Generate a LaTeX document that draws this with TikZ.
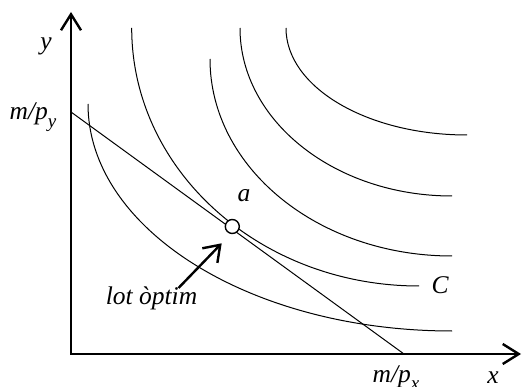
\documentclass[tikz,border=0pt]{standalone}
\usepackage{fontspec}
\setmainfont{Liberation Serif}
\usetikzlibrary{arrows.meta}
\begin{document}
\begin{tikzpicture}[x=1pt,y=-1pt,
  curve/.style={line width=1pt},
  axis/.style={line width=2.4pt, line join=miter,
    {Straight Barb[length=16pt,width=20pt]}-{Straight Barb[length=16pt,width=20pt]}},
  pointer/.style={line width=2.4pt, -{Straight Barb[length=15pt,width=21pt]}},
  lbl/.style={font=\fontsize{25.5}{30}\selectfont\itshape, inner sep=0pt, anchor=base},
  dot/.style={circle, draw, fill=white, line width=1.4pt, minimum size=14pt, inner sep=0pt},
  ]
\useasboundingbox (0,0) rectangle (522,387);
% axes
\coordinate (O) at (71,354);
\coordinate (ytip) at (71,12);
\coordinate (xtip) at (521,354);
\draw[axis] (ytip) -- (O) -- (xtip);
% budget line
\coordinate (my) at (71,112);
\coordinate (mx) at (404,354);
\draw[curve] (my) -- (mx);
% indifference curves (quarter ellipses)
\draw[curve] (88,104) .. controls (88,229.4) and (251,331) .. (452,331);
\draw[curve] (131.7,28) .. controls (131.7,170.5) and (260.3,286) .. (419,286);
\draw[curve] (210,59) .. controls (210,167.8) and (318.3,256) .. (452,256);
\draw[curve] (240,28) .. controls (240,120.8) and (334.9,196) .. (452,196);
\draw[curve] (286,28) .. controls (286,87.1) and (367,135) .. (467,135);
% optimum point
\node[dot] (a) at (232.3,226.5) {};
% labels
\node[lbl] (ylab) at (46,50) {y};
\node[lbl] (mpy) at (33,120) {m/p\raisebox{-0.3em}{\fontsize{19}{22}\selectfont y}};
\node[lbl] (alab) at (244,202) {a};
\node[lbl] (clab) at (440,294) {C};
\node[lbl] (lot) at (151.5,305) {lot òptim};
\node[lbl] (mpx) at (396,382) {m/p\raisebox{-0.3em}{\fontsize{19}{22}\selectfont x}};
\node[lbl] (xlab) at (493,383) {x};
% pointer
\coordinate (ptip) at (221.7,243.3);
\draw[pointer] (lot.base) ++(27,-17) -- (ptip);
\end{tikzpicture}
\end{document}
